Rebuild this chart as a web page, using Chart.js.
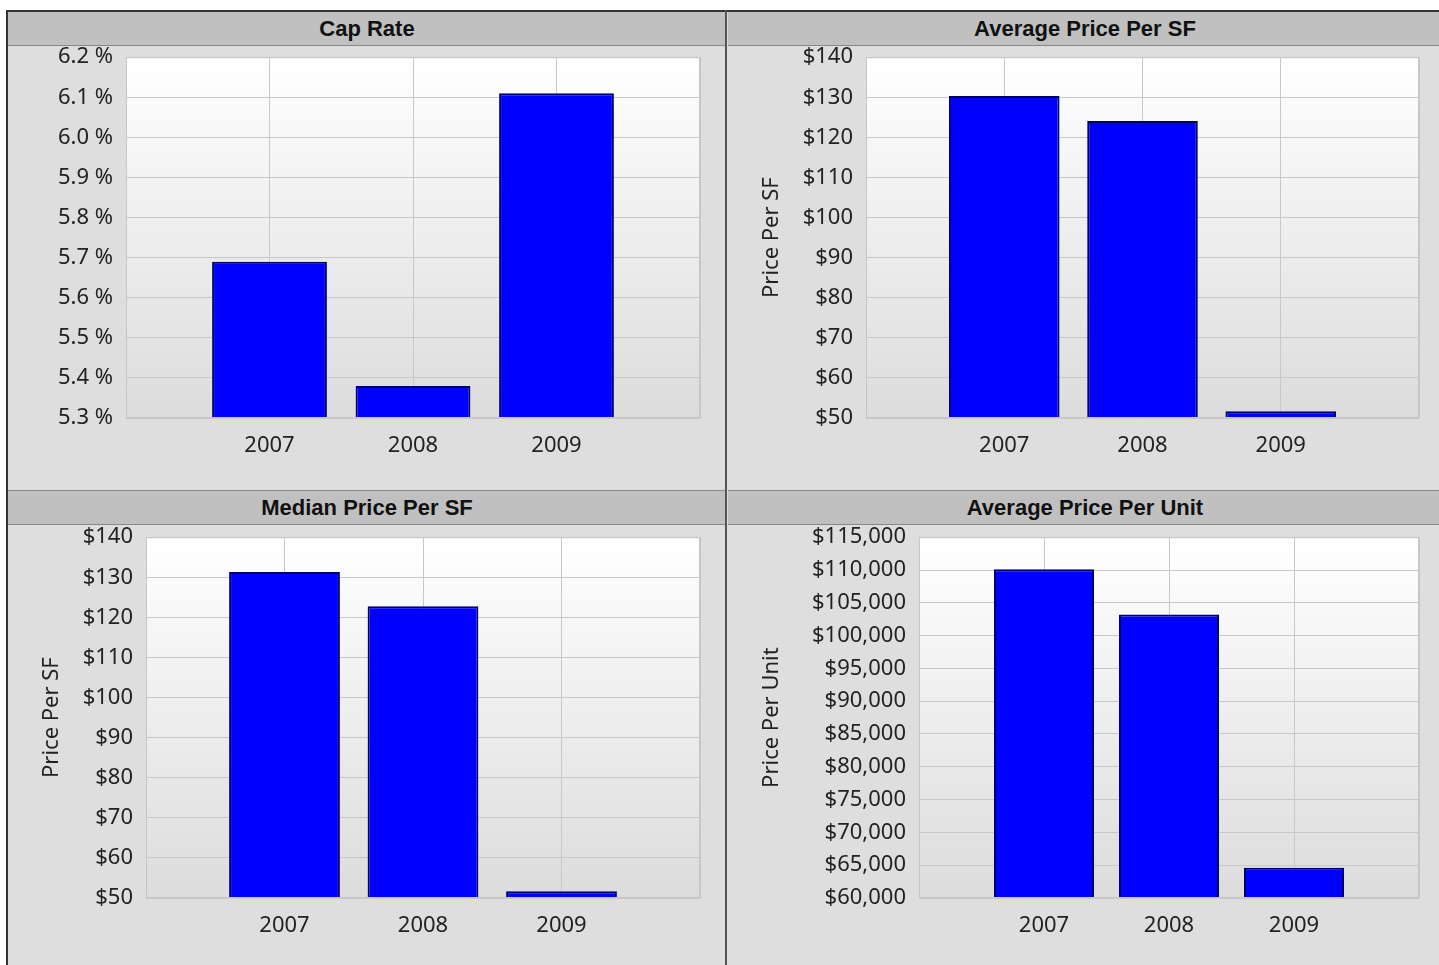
<!DOCTYPE html>
<html>
<head>
<meta charset="utf-8">
<script src="https://cdn.jsdelivr.net/npm/chart.js@4"></script>
<style>
body { margin: 0; background: #fff; width: 1439px; height: 965px; overflow: hidden; position: relative; }
#frame { position: absolute; left: 6px; top: 10px; width: 1440px; height: 960px; background: #dedede; border-left: 2px solid #333; border-top: 2px solid #333; }
.bar { position: absolute; height: 33px; background: #c0c0c0; font: bold 22px 'Liberation Sans', Arial, sans-serif; color: #111; text-align: center; line-height: 33px; z-index: 2; }
.vline { position: absolute; left: 725px; top: 10px; width: 2px; height: 960px; background: #555; z-index: 3; }
canvas { position: absolute; }
</style>
</head>
<body>
<div id="frame"></div>
<div class="bar" style="left:8px;top:12px;width:718px;border-bottom:1px solid #888">Cap Rate</div>
<div class="bar" style="left:728px;top:12px;width:714px;border-bottom:1px solid #888">Average Price Per SF</div>
<div class="bar" style="left:8px;top:490px;width:718px;border-top:1px solid #888;border-bottom:1px solid #888">Median Price Per SF</div>
<div class="bar" style="left:728px;top:490px;width:714px;border-top:1px solid #888;border-bottom:1px solid #888">Average Price Per Unit</div>
<div class="vline"></div>

<canvas id="capRate" style="left:8px;top:31px" width="718" height="459"></canvas>
<canvas id="avgSF" style="left:728px;top:31px" width="711" height="459"></canvas>
<canvas id="medSF" style="left:8px;top:511px" width="718" height="454"></canvas>
<canvas id="avgUnit" style="left:728px;top:511px" width="711" height="454"></canvas>

<script>
// data
const years = ['2007', '2008', '2009'];
const capRate = [5.69, 5.38, 6.11];
const avgPriceSF = [130.3, 124.1, 51.7];
const medianPriceSF = [131.3, 122.8, 51.7];
const avgPriceUnit = [110100, 103200, 64600];

// axis ranges
const capTicks = { min: 5.3, max: 6.2, step: 0.1 };
const sfTicks = { min: 50, max: 140, step: 10 };
const unitTicks = { min: 60000, max: 115000, step: 5000 };

// one empty slot either side so the bars sit on gridlines like the original
const slots = ['', ...years, ''];
const padVals = v => [null, ...v, null];

const plotBack = {
    id: 'plotBack',
    beforeDraw(chart) {
        const { ctx, chartArea: a } = chart;
        const g = ctx.createLinearGradient(0, a.top, 0, a.bottom);
        g.addColorStop(0, '#ffffff');
        g.addColorStop(1, '#dcdcdc');
        ctx.save();
        ctx.fillStyle = g;
        ctx.fillRect(a.left, a.top, a.right - a.left, a.bottom - a.top);
        ctx.restore();
    },
    afterDraw(chart) {
        const { ctx, chartArea: a } = chart;
        ctx.save();
        ctx.strokeStyle = '#c6c6c6';
        ctx.lineWidth = 1;
        ctx.strokeRect(a.left + 0.5, a.top + 0.5, a.right - a.left - 1, a.bottom - a.top - 1);
        ctx.restore();
    }
};

const tickFont = { family: "'Noto Sans', sans-serif", size: 22 };

function makeChart(id, values, range, fmt, title, yWidth, xHeight, padRight) {
    return new Chart(document.getElementById(id), {
        type: 'bar',
        data: {
            labels: slots,
            datasets: [{
                data: padVals(values),
                backgroundColor: '#0000ff',
                borderColor: '#00006a',
                borderWidth: 2,
                barPercentage: 1,
                categoryPercentage: 0.8
            }]
        },
        options: {
            responsive: false,
            animation: false,
            layout: { padding: { top: 20, right: padRight, left: 0, bottom: 0 } },
            plugins: { legend: { display: false }, tooltip: { enabled: false } },
            scales: {
                x: {
                    offset: false,
                    grid: { offset: false, color: '#c8c8c8', drawTicks: false },
                    border: { display: false },
                    ticks: { font: tickFont, color: '#222', padding: 15, maxRotation: 0, autoSkip: false },
                    afterFit: s => { s.height = xHeight; }
                },
                y: {
                    min: range.min,
                    max: range.max,
                    grid: { color: '#c8c8c8', drawTicks: false },
                    border: { display: false },
                    ticks: {
                        stepSize: range.step,
                        font: tickFont,
                        color: '#222',
                        padding: 13,
                        callback: v => fmt(v)
                    },
                    title: {
                        display: !!title,
                        text: title,
                        font: { family: "'Noto Sans', sans-serif", size: 22 },
                        color: '#222',
                        padding: { top: 31, bottom: 0 }
                    },
                    afterFit: s => { s.width = yWidth; }
                }
            }
        },
        plugins: [plotBack]
    });
}

makeChart('capRate', capRate, capTicks, v => v.toFixed(1) + ' %', '', 118, 72, 26);
makeChart('avgSF', avgPriceSF, sfTicks, v => '$' + v, 'Price Per SF', 138, 72, 20);
makeChart('medSF', medianPriceSF, sfTicks, v => '$' + v, 'Price Per SF', 138, 67, 26);
makeChart('avgUnit', avgPriceUnit, unitTicks, v => '$' + v.toLocaleString('en-US'), 'Price Per Unit', 191, 67, 20);
</script>
</body>
</html>
